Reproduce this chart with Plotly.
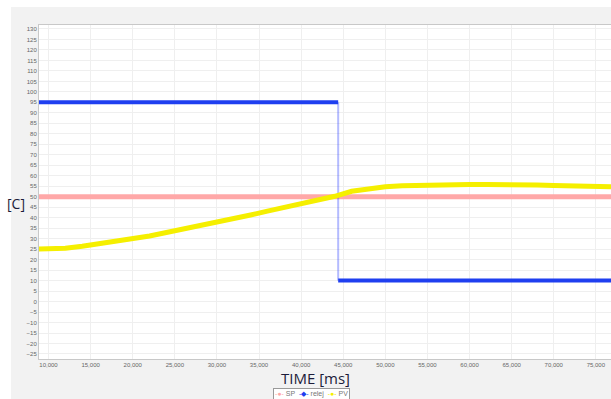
import plotly.graph_objects as go

# Time axis [ms]
time_start = 8870
time_end = 76800
step_time = 44400

# Set point [C]
sp_value = 50

# Relay output levels
relay_on = 95
relay_off = 10

# Process value samples
pv_time = [8870, 10000, 12000, 14000, 16000, 18000, 20000, 22000, 24000, 26000,
           28000, 30000, 32000, 34000, 36000, 38000, 40000, 42000, 44000, 46000,
           48000, 50000, 52000, 54000, 56000, 58000, 60000, 62000, 64000, 66000,
           68000, 70000, 72000, 74000, 76000, 76800]
pv_value = [25.1, 25.2, 25.4, 26.4, 27.5, 28.6, 29.8, 31.3, 32.9, 34.5,
            36.3, 38.0, 39.6, 41.3, 43.1, 44.8, 46.5, 48.3, 50.2, 52.6,
            53.9, 54.7, 55.2, 55.5, 55.7, 55.8, 55.8, 55.8, 55.9, 55.8,
            55.6, 55.4, 55.2, 55.0, 54.9, 54.8]

y_ticks = list(range(-25, 131, 5))
x_ticks = list(range(10000, 76000, 5000))

SP_COLOR = "#ffa8a8"
RELAY_COLOR = "#1f3ff0"
PV_COLOR = "#f5ef00"

fig = go.Figure()

# Set point
fig.add_trace(go.Scatter(x=[time_start, time_end], y=[sp_value, sp_value],
                         mode="lines", line=dict(color=SP_COLOR, width=5),
                         name="SP", showlegend=False))

# Relay: thin switching edge, then the two levels
fig.add_trace(go.Scatter(x=[step_time, step_time], y=[relay_on, relay_off],
                         mode="lines", line=dict(color="rgba(40,60,255,0.35)", width=2),
                         showlegend=False, hoverinfo="skip"))
fig.add_trace(go.Scatter(x=[time_start, step_time, None, step_time, time_end],
                         y=[relay_on, relay_on, None, relay_off, relay_off],
                         mode="lines", line=dict(color=RELAY_COLOR, width=4),
                         name="relej", showlegend=False))

# Process value
fig.add_trace(go.Scatter(x=pv_time, y=pv_value, mode="lines",
                         line=dict(color=PV_COLOR, width=5),
                         name="PV", showlegend=False))

W, H = 611, 399
ml, mr, mt, mb = 39, 0, 25, 40
pw, ph = W - ml - mr, H - mt - mb

def px(x):
    return (x - ml) / pw

def py(y):
    return (H - mb - y) / ph

shapes = [
    # white strips along the top and left page edges
    dict(type="rect", xref="paper", yref="paper", x0=px(0), x1=px(W), y0=py(7), y1=py(0),
         fillcolor="white", line=dict(width=0), layer="below"),
    dict(type="rect", xref="paper", yref="paper", x0=px(0), x1=px(11), y0=py(H), y1=py(0),
         fillcolor="white", line=dict(width=0), layer="below"),
]

legend_text = (
    f"<span style='color:{SP_COLOR}'>-●-</span> SP  "
    f"<span style='color:{RELAY_COLOR}'>-◆-</span> relej  "
    f"<span style='color:{PV_COLOR}'>-●-</span> PV"
)

annotations = [
    dict(text="TIME [ms]", xref="paper", yref="paper", x=px(315), y=py(378),
         xanchor="center", yanchor="middle",
         showarrow=False, font=dict(size=15, color="#1c1c3a", family="Open Sans")),
    dict(text="[C]", xref="paper", yref="paper", x=px(16), y=py(203),
         xanchor="center", yanchor="middle",
         showarrow=False, font=dict(size=14, color="#1c1c3a", family="Open Sans")),
    dict(text=legend_text, xref="paper", yref="paper", x=px(311), y=py(393.5),
         xanchor="center", yanchor="middle",
         showarrow=False, font=dict(size=7, color="#777"), bgcolor="white",
         bordercolor="#999", borderwidth=1, borderpad=1),
]

fig.update_layout(
    width=W, height=H,
    margin=dict(l=ml, r=mr, t=mt, b=mb),
    paper_bgcolor="#f2f2f2",
    plot_bgcolor="white",
    shapes=shapes,
    annotations=annotations,
    showlegend=False,
    font=dict(family="Liberation Sans", size=6, color="#666"),
)

fig.update_xaxes(
    range=[time_start, time_end], tickvals=x_ticks, tickformat=",d",
    showgrid=True, gridcolor="#efefef", gridwidth=1, zeroline=False,
    showline=True, linecolor="#c8c8c8", linewidth=1, mirror=True,
    ticks="", tickfont=dict(size=6, color="#666"),
)
fig.update_yaxes(
    range=[-27.4, 131.9], tickvals=y_ticks,
    showgrid=True, gridcolor="#efefef", gridwidth=1, zeroline=False,
    showline=True, linecolor="#c8c8c8", linewidth=1, mirror=True,
    ticks="", tickfont=dict(size=6, color="#666"),
)

fig.write_html("out.html")
